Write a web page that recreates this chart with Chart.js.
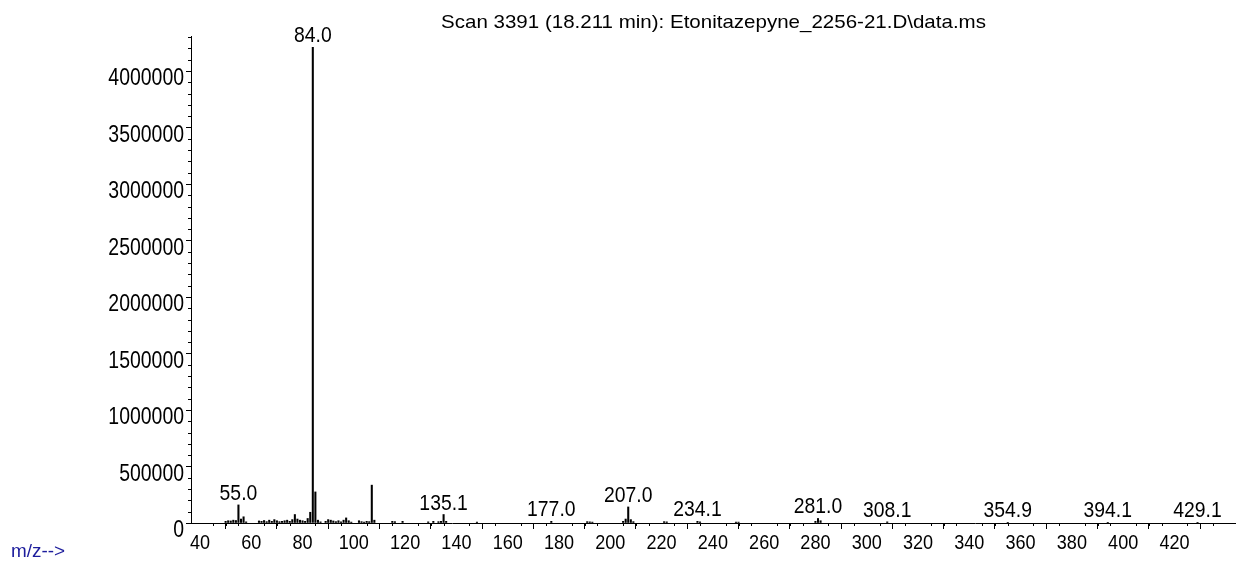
<!DOCTYPE html>
<html>
<head>
<meta charset="utf-8">
<script src="https://cdn.jsdelivr.net/npm/chart.js@4.4.1/dist/chart.umd.min.js"></script>
<style>
  html, body { margin: 0; padding: 0; background: #fff; }
</style>
</head>
<body>
<canvas id="msChart" width="1236" height="563"></canvas>
<script>
const titleText = 'Scan 3391 (18.211 min): Etonitazepyne_2256-21.D\\data.ms';
const axisText = 'm/z-->';

// m/z values and abundances
const mzValues = [
    50, 51, 52, 53, 54, 55, 56, 57, 58,
    63, 64, 65, 66, 67, 68, 69, 70, 71, 72, 73, 74, 75, 76, 77, 78, 79, 80, 81, 82, 83, 84, 85, 86, 87,
    89, 90, 91, 92, 93, 94, 95, 96, 97, 98, 99,
    102, 103, 104, 105, 106, 107, 108,
    115, 116, 119,
    129, 131, 133, 134, 135, 136,
    148, 177, 191, 192, 193,
    205, 206, 207, 208, 209,
    221, 222, 234, 235, 249, 250,
    280, 281, 282, 308, 355, 394, 429
];
const abundance = [
    15000, 20000, 18000, 25000, 22000, 160000, 35000, 55000, 10000,
    18000, 15000, 22000, 12000, 25000, 15000, 30000, 20000, 12000, 15000, 20000, 25000, 15000, 30000, 75000, 35000, 25000, 20000, 15000, 40000, 95000, 4210000, 275000, 25000, 10000,
    15000, 30000, 25000, 18000, 12000, 20000, 10000, 25000, 45000, 20000, 8000,
    20000, 12000, 8000, 15000, 12000, 335000, 25000,
    15000, 12000, 15000,
    10000, 15000, 12000, 15000, 75000, 15000,
    8000, 15000, 12000, 10000, 8000,
    15000, 35000, 142000, 30000, 12000,
    12000, 10000, 15000, 10000, 8000, 8000,
    15000, 40000, 20000, 10000, 6000, 6000, 6000
];
// labelled peaks
const peakLabels = [55.0, 84.0, 135.1, 177.0, 207.0, 234.1, 281.0, 308.1, 354.9, 394.1, 429.1];

// axis ticks
const xTicks = [40, 60, 80, 100, 120, 140, 160, 180, 200, 220, 240, 260, 280, 300, 320, 340, 360, 380, 400, 420, 440];
const xTickLabels = [40, 60, 80, 100, 120, 140, 160, 180, 200, 220, 240, 260, 280, 300, 320, 340, 360, 380, 400, 420];
const yTicks = [0, 500000, 1000000, 1500000, 2000000, 2500000, 3000000, 3500000, 4000000];

const xMin = 36.5, xMax = 444;
const yMax = 4310000;

const sans = "'Liberation Sans', Arial, sans-serif";

// narrow-looking text: draw with a horizontal squeeze
function squeezedText(ctx, text, x, y, size, sx, align) {
    ctx.save();
    ctx.translate(x, y);
    ctx.scale(sx, 1);
    ctx.font = size + 'px ' + sans;
    ctx.textAlign = align;
    ctx.textBaseline = 'alphabetic';
    ctx.fillText(text, 0, 0);
    ctx.restore();
}

const extrasPlugin = {
    id: 'msExtras',
    afterDraw(chart) {
        const ctx = chart.ctx;
        const xs = chart.scales.x;
        const ys = chart.scales.y;
        const area = chart.chartArea;
        ctx.save();

        // minor ticks
        ctx.strokeStyle = '#000';
        ctx.lineWidth = 1;
        ctx.beginPath();
        for (let v = 40; v <= xs.max; v += 5) {
            if (v % 20 === 0) continue;
            const px = Math.round(xs.getPixelForValue(v)) + 0.5;
            ctx.moveTo(px, area.bottom);
            ctx.lineTo(px, area.bottom + 3);
        }
        for (let v = 100000; v <= ys.max; v += 100000) {
            if (v % 500000 === 0) continue;
            const py = Math.round(ys.getPixelForValue(v)) + 0.5;
            ctx.moveTo(area.left - 3, py);
            ctx.lineTo(area.left, py);
        }
        ctx.stroke();

        ctx.fillStyle = '#000';

        // tick labels
        yTicks.forEach(v => {
            squeezedText(ctx, String(v), area.left - 7, ys.getPixelForValue(v) + 14, 24, 0.81, 'right');
        });
        xTickLabels.forEach(v => {
            squeezedText(ctx, String(v), xs.getPixelForValue(v), area.bottom + 26, 21, 0.86, 'center');
        });

        // peak labels
        peakLabels.forEach(lbl => {
            const i = mzValues.indexOf(Math.round(lbl));
            const px = xs.getPixelForValue(Math.round(lbl));
            const py = ys.getPixelForValue(abundance[i]);
            squeezedText(ctx, lbl.toFixed(1), px, py - 5, 22, 0.88, 'center');
        });

        // title
        squeezedText(ctx, titleText, (area.left + area.right) / 2, 28, 19, 1.08, 'center');

        // axis caption
        ctx.fillStyle = '#1c1c9c';
        squeezedText(ctx, axisText, 11, 557, 18, 1.05, 'left');
        ctx.restore();
    }
};

const ctx = document.getElementById('msChart').getContext('2d');
const spectrum = mzValues.map((mz, i) => ({ x: mz, y: abundance[i] }));

window.msChart = new Chart(ctx, {
    type: 'bar',
    data: {
        datasets: [{
            data: spectrum,
            backgroundColor: '#000',
            barThickness: 1.4,
        }],
    },
    options: {
        responsive: false,
        animation: false,
        layout: { padding: { top: 36, left: 0, right: 0, bottom: 0 } },
        plugins: {
            legend: { display: false },
            tooltip: { enabled: false },
            title: { display: false },
        },
        scales: {
            x: {
                type: 'linear',
                min: xMin,
                max: xMax,
                offset: false,
                grid: { display: true, drawOnChartArea: false, drawTicks: true, tickLength: 6, color: '#000' },
                border: { display: true, color: '#000' },
                ticks: { display: false },
                afterBuildTicks: (scale) => { scale.ticks = xTicks.map(v => ({ value: v })); },
                afterFit: (scale) => { scale.height = 40; },
            },
            y: {
                min: 0,
                max: yMax,
                grid: { display: true, drawOnChartArea: false, drawTicks: true, tickLength: 5, color: '#000' },
                border: { display: true, color: '#000' },
                ticks: { display: false },
                afterBuildTicks: (scale) => { scale.ticks = yTicks.map(v => ({ value: v })); },
                afterFit: (scale) => { scale.width = 191; },
            },
        },
    },
    plugins: [extrasPlugin],
});
</script>
</body>
</html>
